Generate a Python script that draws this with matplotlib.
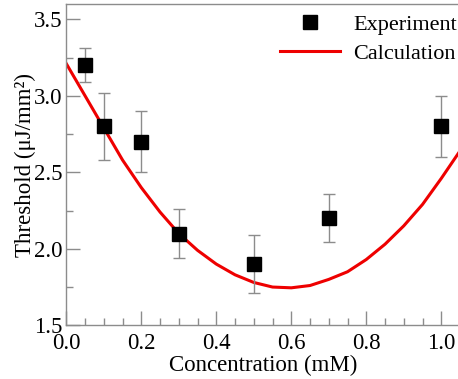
import matplotlib
matplotlib.use("Agg")
import matplotlib.pyplot as plt
from matplotlib.ticker import MultipleLocator
from matplotlib.lines import Line2D

# Measured threshold values with error bars
conc_exp = [0.05, 0.1, 0.2, 0.3, 0.5, 0.7, 1.0]
thr_exp = [3.2, 2.8, 2.7, 2.1, 1.9, 2.2, 2.8]
thr_err = [0.11, 0.22, 0.2, 0.16, 0.19, 0.155, 0.2]

# Calculated threshold curve
conc_calc = [0.0, 0.05, 0.1, 0.15, 0.2, 0.25, 0.3, 0.35, 0.4, 0.45, 0.5,
             0.55, 0.6, 0.65, 0.7, 0.75, 0.8, 0.85, 0.9, 0.95, 1.0, 1.05]
thr_calc = [3.21, 3.0, 2.79, 2.58, 2.40, 2.24, 2.10, 1.99, 1.90, 1.83, 1.78,
            1.75, 1.745, 1.76, 1.80, 1.85, 1.93, 2.03, 2.15, 2.29, 2.46, 2.64]

x_ticks = [0.0, 0.2, 0.4, 0.6, 0.8, 1.0]
y_ticks = [1.5, 2.0, 2.5, 3.0, 3.5]

plt.rcParams['font.family'] = ['Liberation Serif', 'DejaVu Serif']

fig = plt.figure(figsize=(4.58, 3.79), dpi=100)
ax = fig.add_axes([0.1448, 0.1417, 1.0044 - 0.1448, 0.9894 - 0.1417])

ax.plot(conc_calc, thr_calc, color='#ee0000', lw=2.2, zorder=2)
ax.errorbar(conc_exp, thr_exp, yerr=thr_err, fmt='s', color='black',
            markersize=10, ecolor='#8c8c8c', elinewidth=1.0, capsize=4,
            capthick=1.0, zorder=3)

ax.set_xlim(0, 1.05)
ax.set_ylim(1.5, 3.6)
ax.set_xticks(x_ticks)
ax.set_yticks(y_ticks)
ax.set_xticklabels([f"{v:.1f}" for v in x_ticks])
ax.set_yticklabels([f"{v:.1f}" for v in y_ticks])
ax.xaxis.set_minor_locator(MultipleLocator(0.05))
ax.yaxis.set_minor_locator(MultipleLocator(0.25))
ax.tick_params(which='both', direction='in', colors='#8c8c8c',
               labelcolor='black', labelsize=16.5, top=False, right=False)
ax.tick_params(which='major', length=10, width=1)
ax.tick_params(which='minor', length=5, width=1)
ax.tick_params(axis='x', pad=5.5)
ax.tick_params(axis='y', pad=2.5)
for s in ax.spines.values():
    s.set_color('#8c8c8c')
    s.set_linewidth(1)

ax.set_xlabel('Concentration (mM)', fontsize=16.5, labelpad=1)
ax.set_ylabel('Threshold (\u03bcJ/mm\u00b2)', fontsize=16.5, labelpad=-1)

h_exp = Line2D([], [], marker='s', color='black', linestyle='none', markersize=10)
h_calc = Line2D([], [], color='#ee0000', lw=2.2)
ax.legend([h_exp, h_calc], ['Experiment', 'Calculation'],
          frameon=False, fontsize=16, loc='upper right',
          bbox_to_anchor=(1.022, 0.992), bbox_transform=fig.transFigure,
          handlelength=2.7, handletextpad=0.6, labelspacing=0.38,
          borderaxespad=0.1)

fig.savefig('out.png', dpi=100)
